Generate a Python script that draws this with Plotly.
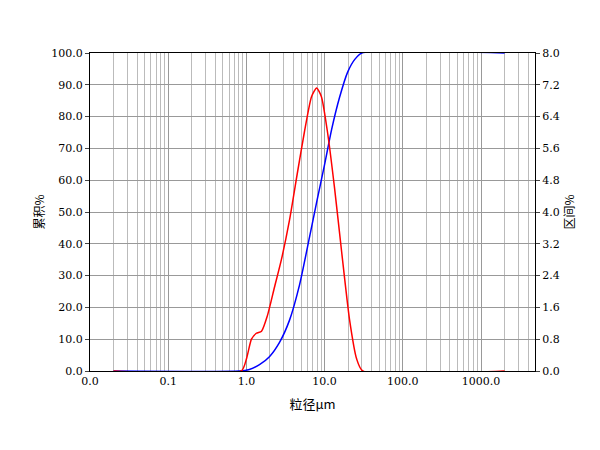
import plotly.graph_objects as go

red_x = [0.02, 0.86, 1.0, 1.16, 1.34, 1.56, 1.86, 2.28, 2.8, 3.56, 4.5, 5.5, 6.8, 7.9, 9.1, 10.9, 13.4, 16.5, 20.8, 25.7, 30.7, 2000]
red_y = [0, 0, 0.3, 0.8, 0.95, 1.0, 1.4, 2.1, 2.8, 3.8, 5.0, 6.0, 6.9, 7.12, 6.9, 6.0, 4.6, 3.0, 1.3, 0.3, 0, 0]
blue_x = [0.02, 0.81, 1.09, 1.47, 1.97, 2.65, 3.56, 4.77, 6.4, 7.9, 10, 12.3, 15.5, 19.7, 24.3, 29.9, 2000]
blue_y = [0, 0, 0.5, 2, 4.5, 9, 16, 27, 42, 53, 65, 76, 86, 94, 98, 100, 100]
xticks = [0.01, 0.1, 1, 10, 100, 1000]
xlabels = ["0.0", "0.1", "1.0", "10.0", "100.0", "1000.0"]
lticks = [i * 10 for i in range(11)]
rticks = [i * 0.8 for i in range(11)]

fig = go.Figure()
fig.add_trace(go.Scatter(x=blue_x, y=blue_y, mode="lines", line=dict(color="blue", width=1.5, shape="spline", smoothing=0.6)))
fig.add_trace(go.Scatter(x=red_x, y=red_y, mode="lines", line=dict(color="red", width=1.5, shape="spline", smoothing=0.6), yaxis="y2"))

font = dict(family="DejaVu Serif", size=11, color="black")
fig.update_layout(
    width=600, height=450, showlegend=False, plot_bgcolor="white", paper_bgcolor="white",
    margin=dict(l=82, r=73, t=45, b=87, autoexpand=False), font=font,
    xaxis=dict(type="log", range=[-2, 3.69], tickvals=xticks, ticktext=xlabels, automargin=False,
               showgrid=True, gridcolor="#999", gridwidth=1, minor=dict(showgrid=True, gridcolor="#bbb", dtick="D1"),
               showline=True, linecolor="black", mirror=True, ticks="", zeroline=False,
               title=dict(text="粒径μm", font=dict(family="Noto Sans CJK SC", size=13), standoff=12)),
    yaxis=dict(range=[0, 100], tickvals=lticks, ticktext=[f"{v:.1f}" for v in lticks], automargin=False,
               showgrid=True, gridcolor="#999", showline=True, linecolor="black", ticks="outside",
               ticklen=4, zeroline=False, title=dict(text="累积%", font=dict(family="Noto Sans CJK SC", size=12), standoff=4)),
    yaxis2=dict(range=[0, 8], overlaying="y", side="right", tickvals=rticks, ticktext=[f"{v:.1f}" for v in rticks],
                automargin=False, showgrid=False, showline=True, linecolor="black", ticks="outside", ticklen=4, zeroline=False,
                title=dict(text="区间%", font=dict(family="Noto Sans CJK SC", size=12), standoff=4)),
)
fig.write_html("out.html")
